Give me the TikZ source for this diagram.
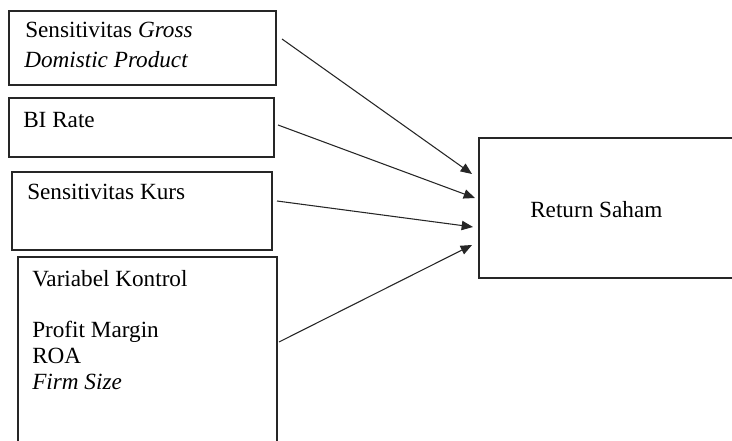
\documentclass[tikz,border=0pt]{standalone}
\usepackage{fontspec}
\setmainfont{Liberation Serif}
\usetikzlibrary{arrows.meta,fit}
\begin{document}
\begin{tikzpicture}[x=0.75pt,y=-0.75pt,
  box/.style={draw=black!85, line width=0.8pt, inner sep=0pt},
  txt/.style={anchor=base west, inner sep=0pt, font=\fontsize{17.4}{20}\selectfont, text=black},
  link/.style={draw=black!85, line width=0.8pt, -{Triangle[length=8.5pt,width=7pt]}}]
\useasboundingbox (0,0) rectangle (732,441);
\clip (0,0) rectangle (732,441);
% boxes
\node[box, fit={(9,11) (276,85)}] (gdp) {};
\node[box, fit={(9,98) (274,157)}] (bi) {};
\node[box, fit={(12,172) (272,250)}] (kurs) {};
\node[box, fit={(18,257) (277,470)}] (ktrl) {};
\node[box, fit={(479,138) (750,278)}] (ret) {};
% texts
\node[txt] (t1a) at (25,38) {Sensitivitas \textit{Gross}};
\node[txt] (t1b) at (24,68) {\textit{Domistic Product}};
\node[txt] (t2) at (23,128) {BI Rate};
\node[txt] (t3) at (27,200) {Sensitivitas Kurs};
\node[txt] (t4a) at (32,287) {Variabel Kontrol};
\node[txt] (t4b) at (32,338) {Profit Margin};
\node[txt] (t4c) at (32,364) {ROA};
\node[txt] (t4d) at (32,390) {\textit{Firm Size}};
\node[txt] (t5) at (530,218) {Return Saham};
% connector ends
\coordinate (s1) at (282,39);  \coordinate (e1) at (472,174);
\coordinate (s2) at (278,125); \coordinate (e2) at (475,198);
\coordinate (s3) at (277,201); \coordinate (e3) at (473,227);
\coordinate (s4) at (279,342); \coordinate (e4) at (472,245);
\draw[link] (s1) -- (e1);
\draw[link] (s2) -- (e2);
\draw[link] (s3) -- (e3);
\draw[link] (s4) -- (e4);
\end{tikzpicture}
\end{document}
